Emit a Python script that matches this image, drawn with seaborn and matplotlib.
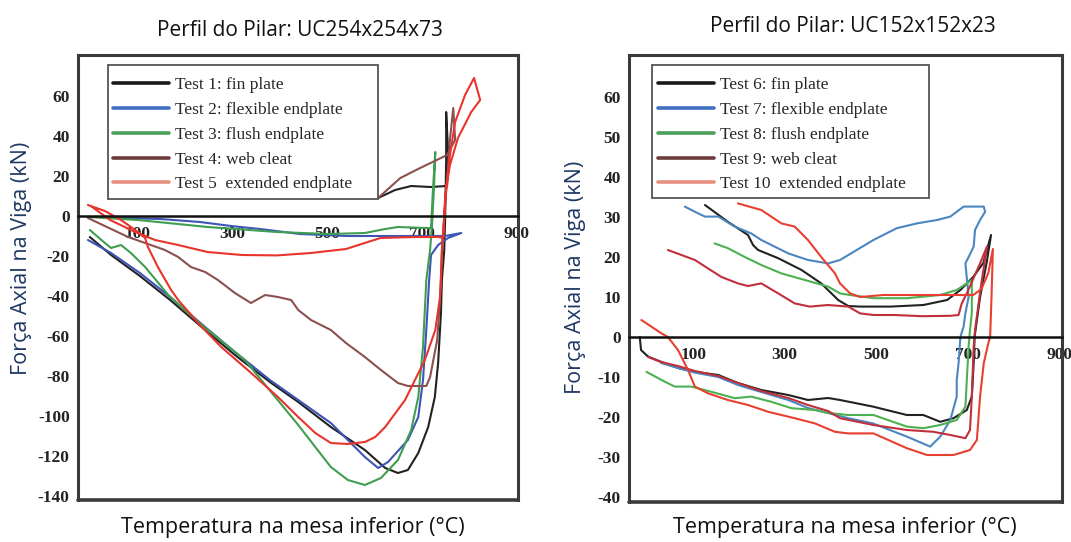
import numpy as np
import pandas as pd
import matplotlib
matplotlib.use("Agg")
import matplotlib.pyplot as plt
import seaborn as sns
from matplotlib.lines import Line2D
from matplotlib.patches import Rectangle

# ---------------- data : left panel (UC254x254x73) ----------------
t1_T = [-2, 43, 104, 168, 242, 305, 379, 439, 508, 580, 623, 650, 671, 693, 714, 728, 735, 741, 743, 748,
        750, 752, 752, 756, 754, 718, 678, 644, 608]
t1_F = [-10.5, -19.5, -30, -42, -57, -69.5, -83, -93, -105.5, -117, -126, -128.5, -127, -118.5, -105.5, -90.5,
        -73.5, -48.5, -32, -17, 0, 28, 52, 33, 15, 14.5, 15, 13, 9]

t2_T = [-6, 43, 104, 168, 242, 305, 379, 439, 508, 580, 608, 629, 671, 693, 703, 710, 716, 720, 735, 756,
        784, 750, 697, 655, 540, 443, 358, 297, 231, 147, 64, 20]
t2_F = [-12, -18.5, -28.5, -40.5, -55.5, -68, -82, -92, -103.5, -120.5, -126, -123, -112, -100.5, -82, -57,
        -32, -19.5, -14.5, -11, -8.5, -10, -10, -10, -10, -9, -6.5, -5, -3, -1.5, -1, -0.5]

t3_T = [-2, 30, 43, 64, 85, 115, 164, 227, 326, 439, 475, 508, 544, 580, 614, 650, 678, 693, 703, 710,
        718, 722, 726, 729, 724, 720, 709, 650, 623, 580, 504, 394, 247, 100, -6]
t3_F = [-7, -13.5, -16, -14.5, -18.5, -25.5, -39.5, -53, -72, -104.5, -115.5, -125.5, -132, -134.5, -131,
        -122, -107, -90.5, -65.5, -32, -17, -4.5, 13, 32, 13, -6, -6, -5.5, -6.5, -8.5, -9, -8, -5.5, -2, -0.5]

t4_T = [-6, 79, 115, 157, 185, 212, 242, 269, 305, 339, 369, 396, 424, 439, 466, 508, 540, 580, 614, 650,
        671, 710, 718, 733, 739, 743, 748, 754, 760, 767, 771, 754, 697, 655, 608]
t4_F = [-1, -10.5, -13.5, -17, -20.5, -25.5, -28, -32, -38.5, -43.5, -39.5, -40.5, -42, -47, -52, -57, -63.5,
        -70.5, -77, -83.5, -85, -85, -80.5, -62, -42, -17, 0, 18, 38, 54, 38, 30.5, 24, 19, 9]

t5_T = [-6, 30, 64, 94, 115, 121, 142, 170, 185, 231, 276, 337, 396, 439, 475, 508, 544, 580, 602, 623,
        665, 707, 729, 739, 741, 743, 748, 752, 760, 771, 792, 811, 824, 805, 777, 760, 750, 746, 737, 686,
        613, 540, 466, 394, 320, 247, 185, 136, 94, 41, 3]
t5_F = [5.5, 2.5, -2, -7, -11, -15.5, -25.5, -37, -42, -54.5, -65.5, -78, -90.5, -100.5, -108.5, -113.5,
        -114, -113, -110.5, -105.5, -92, -72, -57, -40.5, -32, -17, 0, 14, 30.5, 47, 60.5, 69, 58, 52, 39,
        25.5, 10.5, -11, -10.5, -10.5, -11, -16.5, -18.5, -19.7, -19.5, -18, -14.5, -12, -8, -2, 4.5]

# ---------------- data : right panel (UC152x152x23) ----------------
t6_T = [-16.5, -13.7, 1.6, 30, 67, 104, 155, 198, 249, 308, 351, 395, 421, 493, 567, 603, 640, 669, 698, 709,
        713, 715, 727, 742, 751, 734, 712, 684, 655, 603, 531, 465, 439, 417, 380, 337, 286, 242, 231, 220,
        176, 126]
t6_F = [0, -3.25, -4.9, -6.2, -7.75, -8.7, -9.5, -11.5, -13.25, -14.5, -15.75, -15.25, -15.75, -17.4, -19.5,
        -19.5, -21.2, -20.3, -18.25, -14.9, -6.6, 0, 10, 19, 25.5, 18.5, 15, 11.75, 9.25, 8, 7.6, 7.6, 7.75,
        9.25, 13.4, 16.75, 19.7, 21.75, 23, 25.5, 28.8, 33]

t7_T = [30, 67, 104, 155, 198, 249, 308, 351, 395, 439, 493, 567, 618, 640, 662, 676, 676, 680, 684, 691,
        695, 702, 695, 702, 713, 716, 727, 738, 735, 691, 662, 633, 589, 545, 494, 421, 395, 351, 308, 249,
        227, 191, 155, 126, 104, 82]
t7_F = [-6.5, -7.75, -8.9, -10, -12, -13.75, -15.75, -17.75, -19, -20.3, -21.6, -24.9, -27.4, -24.9, -20.75,
        -14.9, -10.75, -6.6, 0, 2.6, 6, 10, 18.4, 20, 22.6, 26.75, 29.25, 31.3, 32.6, 32.6, 30.1, 29.25, 28.4,
        27.2, 24.25, 19.25, 18.4, 19.25, 20.9, 24.25, 25.9, 27.6, 30.1, 30.1, 31.3, 32.6]

t8_T = [-2, 31, 60, 96, 140, 191, 227, 271, 315, 366, 395, 439, 494, 567, 603, 640, 676, 695, 698, 702,
        705, 709, 709, 676, 640, 567, 494, 443, 421, 395, 344, 293, 249, 213, 176, 147]
t8_F = [-8.7, -10.75, -12.4, -12.4, -13.7, -15.3, -14.9, -16.2, -17.8, -18.25, -19, -19.5, -19.5, -22.4,
        -22.8, -22, -20.75, -17.4, -10.75, -2.4, 1.75, 6, 14.25, 11.75, 10.5, 9.7, 9.7, 10.5, 10.9, 12.6,
        14.25, 15.9, 18, 20, 22.2, 23.4]

t9_T = [2, 30, 67, 104, 155, 198, 249, 308, 351, 395, 421, 494, 567, 625, 662, 695, 705, 709, 713, 716,
        728, 742, 727, 698, 687, 680, 662, 600, 540, 494, 465, 439, 395, 355, 322, 286, 249, 220, 198, 162,
        104, 45]
t9_F = [-5, -6.25, -7.25, -8.5, -9.75, -11.5, -13.5, -15.25, -17, -18.5, -20.3, -22, -23.25, -23.7, -24.5,
        -25.3, -23.25, -14.9, -2.4, 1.75, 12, 22.6, 18.4, 10.9, 8.4, 5.5, 5.3, 5.2, 5.5, 5.5, 5.9, 7.6, 8,
        7.6, 8.4, 10.9, 13.4, 12.75, 13.4, 15, 19.25, 21.75]

t10_T = [-13, 31, 45, 67, 89, 104, 133, 176, 220, 264, 322, 366, 410, 439, 494, 567, 611, 669, 705, 720,
         727, 735, 745, 749, 752, 755, 745, 730, 712, 690, 676, 600, 516, 465, 443, 421, 410, 380, 351, 322,
         293, 249, 198]
t10_F = [4.25, 0.9, 0, -3.25, -8.25, -12.4, -14.1, -15.75, -17, -18.7, -20.3, -21.6, -23.7, -24.1, -24.1,
         -27.8, -29.5, -29.5, -28.25, -25.75, -14.9, -6.6, -1.6, 0, 10, 22, 16, 12, 10.5, 10.5, 10.5, 10.5,
         10.5, 10, 10.9, 13.4, 15.9, 20, 24.25, 27.6, 28.4, 31.75, 33.4]

left_labels = ["Test 1: fin plate", "Test 2: flexible endplate", "Test 3: flush endplate",
               "Test 4: web cleat", "Test 5  extended endplate"]
right_labels = ["Test 6: fin plate", "Test 7: flexible endplate", "Test 8: flush endplate",
                "Test 9: web cleat", "Test 10  extended endplate"]

left_yticks = [60, 40, 20, 0, -20, -40, -60, -80, -100, -120, -140]
right_yticks = [60, 50, 40, 30, 20, 10, 0, -10, -20, -30, -40]
xticks = [100, 300, 500, 700, 900]

title_left = "Perfil do Pilar: UC254x254x73"
title_right = "Perfil do Pilar: UC152x152x23"
xlabel = "Temperatura na mesa inferior (°C)"
ylabel = "Força Axial na Viga (kN)"

left_curve_colors = ["#222222", "#3d55b5", "#3f9e50", "#8c5050", "#e8342c"]
left_legend_colors = ["#1a1a1a", "#3f6fbf", "#4aa05a", "#6b3a3a", "#e89080"]
right_curve_colors = ["#222222", "#4a86c0", "#4db050", "#c0303c", "#e84030"]
right_legend_colors = ["#1a1a1a", "#3f6fbf", "#4aa05a", "#6b3a3a", "#e89080"]

# ---------------- figure ----------------
sns.set_theme(style="white")
plt.rcParams['font.family'] = ['Open Sans', 'DejaVu Sans']

W, H = 1071, 542
fig = plt.figure(figsize=(W / 100, H / 100), dpi=100)
fig.patch.set_facecolor("white")


def px_axes(x0, y0, x1, y1):
    return fig.add_axes([x0 / W, 1 - y1 / H, (x1 - x0) / W, (y1 - y0) / H])


SERIF = ['Liberation Serif', 'DejaVu Serif']


def panel(ax, series, labels, ccols, lcols, xlim, ylim, yticks, legend_xy, frame_px):
    frames = []
    for lab, (T, F) in zip(labels, series):
        frames.append(pd.DataFrame({"T": T, "F": F, "test": lab}))
    df = pd.concat(frames, ignore_index=True)
    sns.lineplot(data=df, x="T", y="F", hue="test", hue_order=labels,
                 palette=dict(zip(labels, ccols)), sort=False, estimator=None,
                 legend=False, ax=ax, linewidth=1.5)
    ax.set_xlim(*xlim)
    ax.set_ylim(*ylim)
    ax.set_xlabel("")
    ax.set_ylabel("")
    ax.set_facecolor("white")
    # zero axis carrying the x tick labels
    ax.spines["bottom"].set_position(("data", 0))
    ax.spines["bottom"].set_color("#111111")
    ax.spines["bottom"].set_linewidth(1.8)
    for s in ["top", "left", "right"]:
        ax.spines[s].set_color("#3a3a3a")
        ax.spines[s].set_linewidth(2.2)
    ax.plot([0, 1], [0, 0], transform=ax.transAxes, color="#3a3a3a", lw=2.6, clip_on=False)
    ax.set_xticks(xticks)
    ax.set_xticklabels([str(v) for v in xticks], fontfamily=SERIF, fontweight="bold", fontsize=12.5)
    ax.set_yticks(yticks)
    ax.set_yticklabels([str(v) for v in yticks], fontfamily=SERIF, fontweight="bold", fontsize=12.5)
    ax.tick_params(axis="x", length=0, pad=7, colors="#222222")
    ax.tick_params(axis="y", length=0, pad=6, colors="#222222")
    ax.grid(False)
    handles = [Line2D([], [], color=c, lw=2.6) for c in lcols]
    ax.legend(handles, labels, loc="upper left", bbox_to_anchor=legend_xy,
              bbox_transform=fig.transFigure, frameon=False, borderaxespad=0, borderpad=0,
              prop={"family": SERIF, "size": 12.5}, handlelength=3.2, handletextpad=0.35,
              labelspacing=0.5)
    x0, y0, x1, y1 = frame_px
    fig.patches.append(Rectangle((x0 / W, 1 - y1 / H), (x1 - x0) / W, (y1 - y0) / H,
                                 transform=fig.transFigure, fill=False, edgecolor="#555555", lw=1.3))


axL = px_axes(78, 55, 518, 500)
panel(axL, [(t1_T, t1_F), (t2_T, t2_F), (t3_T, t3_F), (t4_T, t4_F), (t5_T, t5_F)],
      left_labels, left_curve_colors, left_legend_colors,
      (-27, 904), (-142, 80.5), left_yticks, (113 / W, 1 - 77 / H), (108, 65, 378, 199))

axR = px_axes(629, 55, 1062, 502)
panel(axR, [(t6_T, t6_F), (t7_T, t7_F), (t8_T, t8_F), (t9_T, t9_F), (t10_T, t10_F)],
      right_labels, right_curve_colors, right_legend_colors,
      (-40, 906), (-41.25, 70.5), right_yticks, (658 / W, 1 - 77 / H), (652, 65, 929, 198))

fig.text(300 / W, 1 - 30 / H, title_left, ha="center", va="center", fontsize=15, color="#111111")
fig.text(853 / W, 1 - 27 / H, title_right, ha="center", va="center", fontsize=15, color="#111111")
fig.text(293 / W, 1 - 528 / H, xlabel, ha="center", va="center", fontsize=15.5, color="#111111")
fig.text(845 / W, 1 - 528 / H, xlabel, ha="center", va="center", fontsize=15.5, color="#111111")
fig.text(22 / W, 1 - 258 / H, ylabel, ha="center", va="center", rotation=90, fontsize=15.5, color="#1F3864")
fig.text(575 / W, 1 - 277 / H, ylabel, ha="center", va="center", rotation=90, fontsize=15.5, color="#1F3864")

fig.savefig("out.png", dpi=100, facecolor="white")
